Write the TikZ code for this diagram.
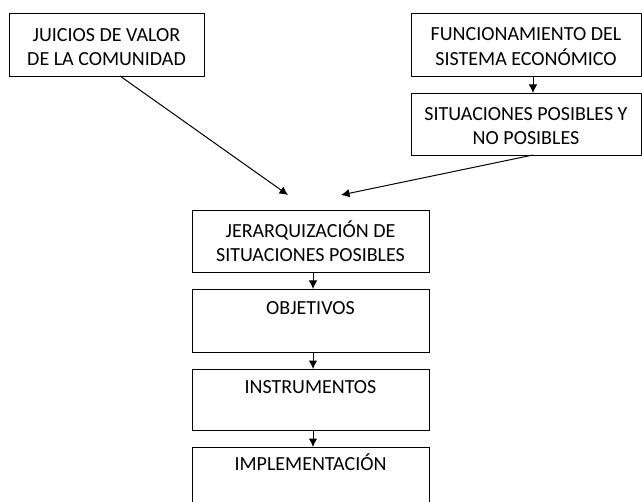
\documentclass[tikz,border=0pt]{standalone}
\usepackage{fontspec}
\setmainfont{Carlito}
\usetikzlibrary{arrows.meta,calc}
\newcommand{\dropline}[1]{\rule{0pt}{#1}}
\begin{document}
\begin{tikzpicture}[x=1pt,y=-1pt,
  box/.style={draw, line width=0.9pt, inner sep=0pt, outer sep=0pt, anchor=north west,
    align=center, font=\fontsize{20}{24.5}\selectfont},
  arr/.style={-{Latex[length=8.5pt,width=8.5pt]}, line width=1pt}]
\useasboundingbox (0,0) rectangle (642,502);
\clip (0,0) rectangle (642,502);
\node[box, minimum width=195, minimum height=63] (jui) at (9,13) {\dropline{18pt}JUICIOS DE VALOR\\DE LA COMUNIDAD};
\node[box, minimum width=230, minimum height=63] (fun) at (411,13) {\dropline{17pt}FUNCIONAMIENTO DEL\\SISTEMA ECONÓMICO};
\node[box, minimum width=230, minimum height=62] (sit) at (411,93) {\dropline{17pt}SITUACIONES POSIBLES Y\\NO POSIBLES};
\node[box, minimum width=237, minimum height=62] (jer) at (192,210) {JERARQUIZACIÓN DE\\SITUACIONES POSIBLES};
\node[box, minimum width=237, minimum height=63] (obj) at (192,289) {OBJETIVOS\\\mbox{}};
\node[box, minimum width=237, minimum height=61] (ins) at (192,369) {INSTRUMENTOS\\\mbox{}};
\node[box, minimum width=237, minimum height=80] (imp) at (192,447) {IMPLEMENTACIÓN\\\mbox{}\\\mbox{}};
\coordinate (s1) at ($(jui.south west)+(111,0)$);
\coordinate (t1) at (288,195);
\coordinate (s2) at ($(sit.south west)+(122,0)$);
\coordinate (t2) at (341,195);
\draw[arr] (s1) -- (t1);
\draw[arr] (s2) -- (t2);
\draw[arr] ($(fun.south west)+(122,0)$) -- ($(sit.north west)+(122,0)$);
\draw[arr] ($(jer.south)+(2.5,0)$) -- ($(obj.north)+(2.5,0)$);
\draw[arr] ($(obj.south)+(2.5,0)$) -- ($(ins.north)+(2.5,0)$);
\draw[arr] ($(ins.south)+(2.5,0)$) -- ($(imp.north)+(2.5,0)$);
\end{tikzpicture}
\end{document}
